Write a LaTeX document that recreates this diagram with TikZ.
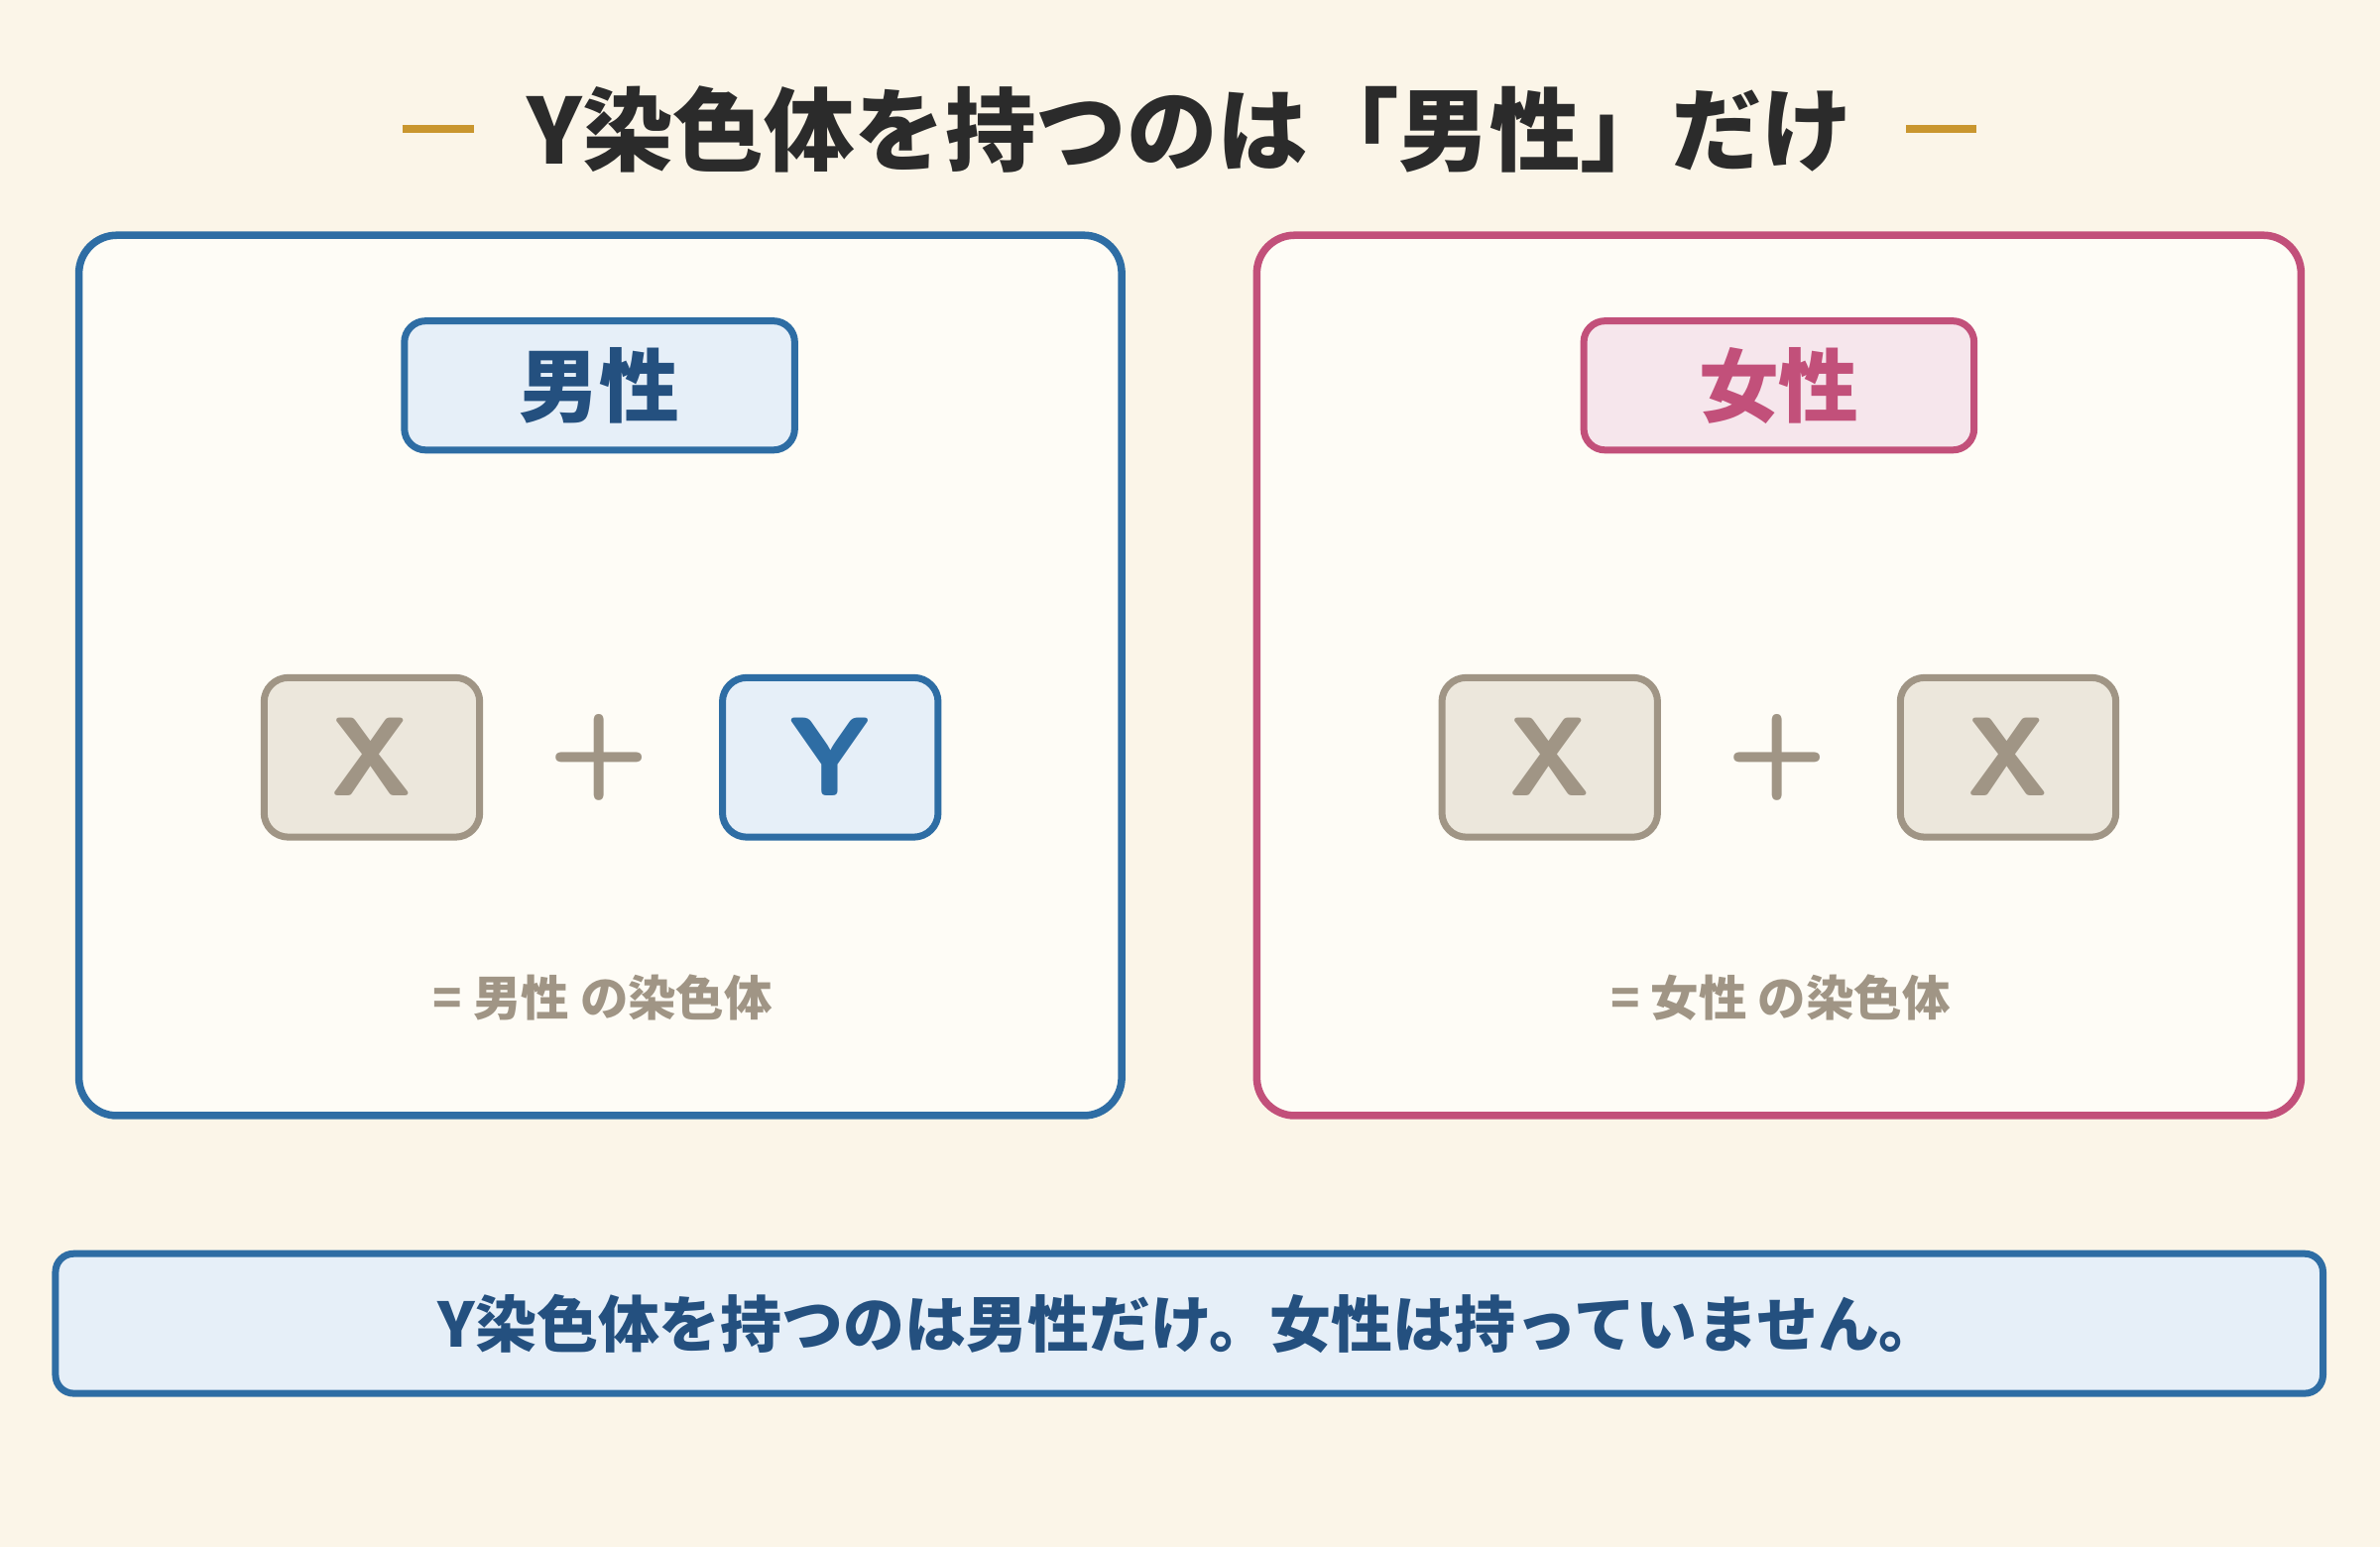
\documentclass[tikz,border=0pt]{standalone}
\usepackage{fontspec}
\setmainfont{Noto Sans CJK JP}
\newfontfamily\cjk{Noto Sans CJK JP}
\definecolor{bgc}{HTML}{FBF5E8}
\definecolor{panel}{HTML}{FEFCF6}
\definecolor{maleblue}{HTML}{2E6DA4}
\definecolor{maledark}{HTML}{24507F}
\definecolor{malefill}{HTML}{E6EFF8}
\definecolor{femred}{HTML}{C2507A}
\definecolor{femfill}{HTML}{F6E6EC}
\definecolor{chrgray}{HTML}{A09585}
\definecolor{chrfill}{HTML}{ECE7DC}
\definecolor{gold}{HTML}{C9962E}
\definecolor{ink}{HTML}{2B2B2B}

\tikzset{
  panelbox/.style={draw=#1, line width=1.4pt, fill=panel, rounded corners=0.25cm},
  tagbox/.style={draw=#1, line width=1.3pt, rounded corners=0.14cm, minimum width=2.57cm, minimum height=0.85cm, font=\cjk\bfseries\fontsize{15}{18}\selectfont},
  chrom/.style={draw=#1, line width=1.3pt, rounded corners=0.16cm, minimum width=1.42cm, minimum height=1.05cm, font=\sffamily\bfseries\fontsize{21}{24}\selectfont},
  plus/.style={text=chrgray, font=\sffamily\bfseries\fontsize{22}{24}\selectfont},
  note/.style={text=chrgray, font=\cjk\bfseries\fontsize{9}{11}\selectfont},
}

\begin{document}
\begin{tikzpicture}[x=0.01cm, y=0.01cm]
% background
\fill[bgc] (0,0) rectangle (1568,1019);
\useasboundingbox (0,0) rectangle (1568,1019);

% title
\node[text=ink, font=\cjk\bfseries\fontsize{17}{20}\selectfont] (title) at (784,934) {Y染色体を持つのは「男性」だけ};
\draw[gold, line width=1.6pt] (265,934) -- (312,934);
\draw[gold, line width=1.6pt] (1256,934) -- (1302,934);

% panels
\draw[panelbox=maleblue] (52,284) rectangle (739,864);
\draw[panelbox=femred] (828,284) rectangle (1516,864);

% male side
\node[tagbox=maleblue, fill=malefill, text=maledark] (maletag) at (395,765) {男性};
\node[chrom=chrgray, fill=chrfill, text=chrgray] (mx) at (245,520) {X};
\node[plus] (mplus) at (395,520) {+};
\node[chrom=maleblue, fill=malefill, text=maleblue] (my) at (547,520) {Y};
\node[note] (mnote) at (397,362) {=\ 男性 の染色体};

% female side
\node[tagbox=femred, fill=femfill, text=femred] (femtag) at (1172,765) {女性};
\node[chrom=chrgray, fill=chrfill, text=chrgray] (fx1) at (1021,520) {X};
\node[plus] (fplus) at (1171,520) {+};
\node[chrom=chrgray, fill=chrfill, text=chrgray] (fx2) at (1323,520) {X};
\node[note] (fnote) at (1173,362) {=\ 女性 の染色体};

% summary
\node[draw=maleblue, line width=1.3pt, fill=malefill, rounded corners=0.12cm, minimum width=14.93cm, minimum height=0.92cm, text=maledark, font=\cjk\bfseries\fontsize{11.5}{14}\selectfont] (summary) at (783.5,147) {Y染色体を持つのは男性だけ。女性は持っていません。};
\end{tikzpicture}
\end{document}
